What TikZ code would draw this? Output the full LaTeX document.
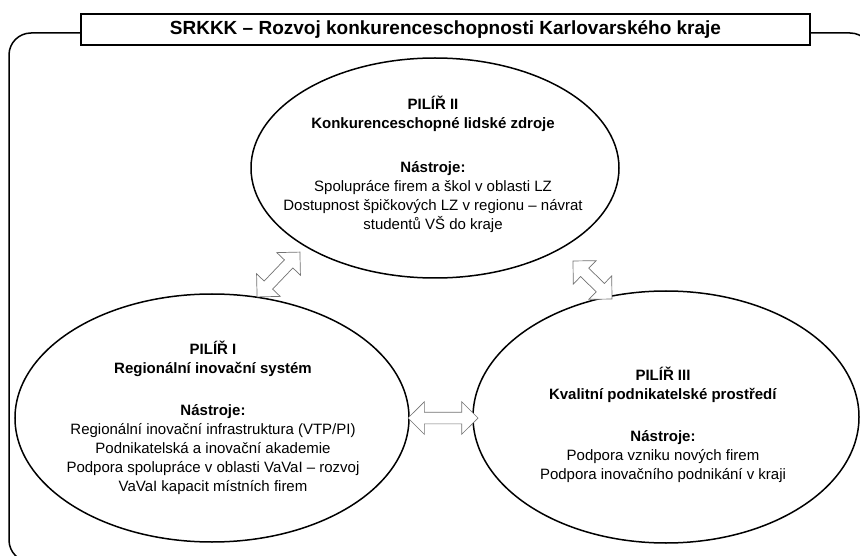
\documentclass[tikz,border=0pt]{standalone}
\usepackage{fontspec}
\setmainfont{Liberation Sans}
\usetikzlibrary{shapes.geometric,shapes.arrows}
\begin{document}
\begin{tikzpicture}[x=1pt,y=-1pt,
  frame/.style={line width=1.5pt, rounded corners=22pt},
  titlebox/.style={draw, fill=white, line width=1.2pt, inner sep=0pt,
    font=\bfseries\fontsize{19}{22}\selectfont},
  pillar/.style={draw, ellipse, line width=1.5pt, inner sep=0pt},
  txt/.style={align=center, inner sep=0pt, font=\fontsize{15}{19}\selectfont},
  dbl/.style={double arrow, draw=black!55, line width=0.7pt, fill=white,
    double arrow head extend=10.5pt, double arrow tip angle=90,
    inner sep=0pt, inner ysep=5.5pt}]
\clip (0,0) rectangle (860,556);
\draw[frame] (9,33) rectangle (872,562);
\node[titlebox, minimum width=729pt, minimum height=31pt] (title) at (445.5,29.5)
  {SRKKK – Rozvoj konkurenceschopnosti Karlovarského kraje};
% ellipses
\node[pillar, minimum width=368pt, minimum height=220pt] (p2) at (435,168) {};
\node[pillar, minimum width=394pt, minimum height=248pt] (p1) at (212,418) {};
\node[pillar, minimum width=386pt, minimum height=252pt] (p3) at (666,417) {};
% texts
\node[txt] (t2) at (433,164.5) {\textbf{PILÍŘ II}\\\textbf{Konkurenceschopné lidské zdroje}\\[25pt]
  \textbf{Nástroje:}\\Spolupráce firem a škol v oblasti LZ\\Dostupnost špičkových LZ v regionu – návrat\\studentů VŠ do kraje};
\node[txt] (t1) at (213,417.5) {\textbf{PILÍŘ I}\\\textbf{Regionální inovační systém}\\[23pt]
  \textbf{Nástroje:}\\Regionální inovační infrastruktura (VTP/PI)\\Podnikatelská a inovační akademie\\Podpora spolupráce v oblasti VaVaI – rozvoj\\VaVaI kapacit místních firem};
\node[txt] (t3) at (663,425) {\textbf{PILÍŘ III}\\\textbf{Kvalitní podnikatelské prostředí}\\[23pt]
  \textbf{Nástroje:}\\Podpora vzniku nových firem\\Podpora inovačního podnikání v kraji};
% arrows
\node[dbl, minimum height=62pt, rotate=46.3] (a12) at (278.5,274.5) {};
\node[dbl, minimum height=54.5pt, rotate=-44.3] (a23) at (592.5,280) {};
\node[dbl, minimum height=70pt] (a13) at (443,418) {};
\end{tikzpicture}
\end{document}
